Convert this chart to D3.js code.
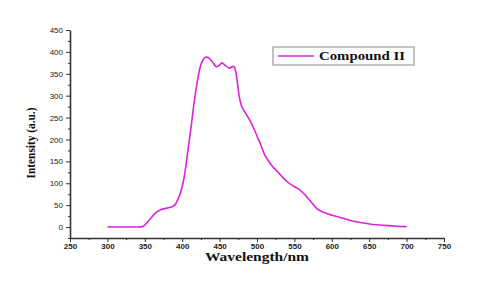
<!DOCTYPE html>
<html lang="en">
  <head>
    <meta charset="UTF-8" />
    <title>Compound II emission</title>
    <style>
      body { margin: 0; background: #fff; }
      .tick text { font-family: "Liberation Sans", Arial, sans-serif; fill: #222; }
      .axis path, .axis line { stroke: #333; }
    </style>
  </head>
  <body>
    <svg width="503" height="282"></svg>
    <script src="https://d3js.org/d3.v7.min.js"></script>
    <script>
      const wavelength = [300, 310, 320, 330, 340, 347, 352, 358, 364, 372, 384, 390, 394, 398, 402, 405, 408, 412, 416, 420, 424, 428, 432, 435, 440, 446, 450, 453, 457, 463, 468, 470, 473, 476, 479, 484, 490, 495, 500, 505, 510, 515, 520, 530, 540, 550, 558, 565, 572, 580, 590, 600, 611, 625, 640, 655, 670, 685, 700];
      const intensity = [0, 0, 0, 0, 0, 1, 8, 20, 32, 40, 45, 50, 62, 80, 108, 140, 180, 230, 285, 330, 365, 382, 388, 387, 378, 366, 370, 375, 370, 363, 367, 365, 340, 300, 278, 262, 245, 228, 208, 188, 166, 152, 140, 122, 104, 92, 84, 72, 58, 42, 33, 27, 22, 15, 10, 6, 4, 2, 1];
      const xTicks = [250, 300, 350, 400, 450, 500, 550, 600, 650, 700, 750];
      const yTicks = [0, 50, 100, 150, 200, 250, 300, 350, 400, 450];
      const seriesName = "Compound II";

      const svg = d3.select("svg");
      const x = d3.scaleLinear().domain([250, 750]).range([70, 444]);
      const y = d3.scaleLinear().domain([-25, 450]).range([238, 30]);

      // minor ticks
      svg.append("g")
        .attr("class", "axis")
        .attr("transform", "translate(0,238)")
        .call(d3.axisBottom(x).tickValues(d3.range(275, 750, 50)).tickSize(2).tickFormat(""))
        .call((g) => g.select(".domain").remove());
      svg.append("g")
        .attr("class", "axis")
        .attr("transform", "translate(70,0)")
        .call(d3.axisLeft(y).tickValues(d3.range(-25, 450, 50).concat([425])).tickSize(2).tickFormat(""))
        .call((g) => g.select(".domain").remove());

      const xAxis = svg.append("g")
        .attr("class", "axis")
        .attr("transform", "translate(0,238)")
        .call(d3.axisBottom(x).tickValues(xTicks).tickSize(4).tickSizeOuter(0).tickPadding(1));
      xAxis.selectAll("text").style("font-size", "8px").style("font-weight", "bold");

      const yAxis = svg.append("g")
        .attr("class", "axis")
        .attr("transform", "translate(70,0)")
        .call(d3.axisLeft(y).tickValues(yTicks).tickSize(4).tickSizeOuter(0).tickPadding(3));
      yAxis.selectAll("text").style("font-size", "8px");

      svg.selectAll(".axis .domain").attr("stroke-width", 1.6);
      svg.selectAll(".axis line").attr("stroke-width", 1);

      const data = wavelength.map((w, i) => [w, intensity[i]]);
      svg.append("path")
        .datum(data)
        .attr("fill", "none")
        .attr("stroke", "#dd22dd")
        .attr("stroke-width", 1.6)
        .attr("stroke-linejoin", "round")
        .attr("d", d3.line().x((d) => x(d[0])).y((d) => y(d[1])).curve(d3.curveMonotoneX));

      // legend
      const lg = svg.append("g");
      lg.append("rect")
        .attr("x", 273).attr("y", 47).attr("width", 141).attr("height", 18)
        .attr("fill", "#fff").attr("stroke", "#888").attr("stroke-width", 1);
      lg.append("line")
        .attr("x1", 278).attr("x2", 314).attr("y1", 56).attr("y2", 56)
        .attr("stroke", "#dd22dd").attr("stroke-width", 1.6);
      lg.append("text")
        .attr("x", 319).attr("y", 60)
        .attr("font-family", "Liberation Serif, Times New Roman, serif")
        .attr("font-weight", "bold").attr("font-size", 12.5)
        .attr("textLength", 86).attr("lengthAdjust", "spacingAndGlyphs")
        .attr("fill", "#111")
        .text(seriesName);

      svg.append("text")
        .attr("transform", "translate(35,143) rotate(-90)")
        .attr("text-anchor", "middle")
        .attr("font-family", "Liberation Serif, Times New Roman, serif")
        .attr("font-weight", "bold").attr("font-size", 12.5)
        .attr("textLength", 71).attr("lengthAdjust", "spacingAndGlyphs")
        .attr("fill", "#111")
        .text("Intensity (a.u.)");

      svg.append("text")
        .attr("x", 257).attr("y", 261)
        .attr("text-anchor", "middle")
        .attr("font-family", "Liberation Serif, Times New Roman, serif")
        .attr("font-weight", "bold").attr("font-size", 11.5)
        .attr("textLength", 104).attr("lengthAdjust", "spacingAndGlyphs")
        .attr("fill", "#111")
        .text("Wavelength/nm");
    </script>
  </body>
</html>
